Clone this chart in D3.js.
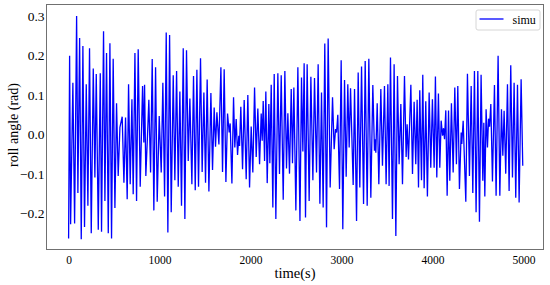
<!DOCTYPE html>
<html>
<head>
<meta charset="utf-8">
<script src="https://cdn.jsdelivr.net/npm/d3@7"></script>
<style>
  html, body { margin: 0; padding: 0; background: #fff; }
  svg { display: block; }
  text { font-family: "Liberation Serif", "Times New Roman", serif; fill: #000; }
</style>
</head>
<body>
<svg id="chart" width="550" height="285"></svg>
<script>
// ---- data ----
const times = [
  0, 11, 22, 47, 66, 88, 102, 121, 139, 157, 175, 194, 212, 230, 249, 271, 289, 304, 326, 348,
  362, 384, 399, 417, 436, 454, 472, 490, 509, 527, 545, 564, 589, 608, 626, 644, 659, 677, 696, 710,
  729, 747, 765, 787, 813, 827, 835, 849, 871, 882, 901, 919, 937, 956, 974, 996, 1018, 1036, 1055, 1073,
  1091, 1110, 1128, 1150, 1168, 1187, 1205, 1223, 1241, 1260, 1278, 1296, 1315, 1333, 1355, 1373, 1392, 1410, 1428, 1450,
  1468, 1487, 1505, 1523, 1542, 1564, 1582, 1600, 1615, 1630, 1652, 1674, 1692,
  1710, 1729, 1747, 1765, 1776, 1795, 1813, 1827, 1842, 1857, 1871, 1879, 1893, 1912, 1930, 1952, 1970, 1989, 2007, 2025,
  2044, 2062, 2080, 2099, 2117, 2128, 2139, 2154, 2168, 2183, 2201, 2212, 2227, 2245, 2260, 2278, 2300, 2318, 2337, 2359,
  2377, 2395, 2410, 2428, 2447, 2461, 2476, 2498, 2520, 2543, 2560, 2575,
  2589, 2604, 2622, 2644, 2663, 2685, 2703, 2725, 2743, 2762, 2780, 2798, 2816, 2835, 2853, 2875, 2901, 2919, 2934, 2945,
  2959, 2978, 2996, 3014, 3033, 3051, 3069, 3084, 3099, 3128, 3143, 3165, 3183, 3201, 3220, 3242, 3260, 3282, 3300, 3322,
  3344, 3362, 3370, 3377, 3392, 3410, 3432, 3450,
  3472, 3490, 3509, 3523, 3538, 3560, 3578, 3597, 3615, 3633, 3652, 3670, 3692, 3710, 3721, 3736, 3762, 3780, 3798, 3816,
  3831, 3846, 3860, 3879, 3893, 3908, 3926, 3944, 3963, 3981, 3999, 4018, 4032, 4047, 4065, 4080, 4095, 4110, 4121, 4132,
  4146, 4161, 4176, 4190, 4208, 4227, 4245, 4263, 4278, 4296, 4315, 4322, 4337,
  4366, 4384, 4406, 4425, 4443, 4461, 4479, 4498, 4516, 4534, 4553, 4564, 4575, 4589, 4604, 4616, 4627, 4641, 4659, 4681,
  4699, 4721, 4740, 4758, 4773, 4787, 4805, 4824, 4842, 4860, 4879, 4897, 4915, 4934, 4952, 4974, 4992
];
const roll = [
  -0.263, 0.199, -0.227, 0.131, -0.225, 0.300, -0.148, 0.244, -0.265, 0.224, -0.234, 0.127, -0.180, 0.218, -0.250, 0.167, -0.109, 0.153, -0.241, 0.155,
  -0.246, 0.261, -0.168, 0.206, -0.250, 0.231, -0.263, 0.192, -0.186, 0.079, -0.105, 0.018, 0.045, -0.122, 0.043, -0.164, 0.127, -0.126, 0.089, -0.151,
  0.206, -0.168, 0.216, -0.132, 0.123, -0.020, 0.126, -0.105, 0.020, 0.088, -0.096, 0.191, -0.192, 0.170, -0.170, 0.047, -0.096, 0.131, -0.157, 0.258,
  -0.248, 0.252, -0.197, 0.150, -0.116, 0.161, -0.132, 0.109, -0.180, 0.218, -0.214, 0.213, -0.067, 0.091, -0.126, 0.148, -0.141, 0.164, -0.132, 0.193,
  -0.095, 0.106, -0.122, 0.139, -0.144, 0.105, -0.090, 0.068, -0.031, 0.056, -0.025, 0.170, -0.095,
  0.165, -0.120, 0.053, 0.005, 0.028, -0.124, 0.094, -0.033, 0.039, -0.052, -0.003, -0.029, 0.070, -0.088, 0.087, -0.113, 0.100, -0.134, 0.020, -0.096,
  0.119, -0.057, 0.066, -0.075, 0.053, -0.016, 0.085, -0.067, 0.109, -0.123, 0.077, -0.073, 0.126, -0.185, 0.153, -0.214, 0.155, -0.100, 0.150, -0.165,
  0.161, -0.086, 0.054, -0.099, 0.115, -0.073, 0.119, -0.192, 0.170, -0.219, 0.144, -0.043,
  0.180, -0.210, 0.178, -0.168, 0.146, -0.116, 0.143, -0.096, 0.178, -0.175, 0.106, -0.185, 0.230, -0.235, 0.243, -0.134, 0.094, -0.037, 0.014, 0.005,
  0.050, -0.138, 0.188, -0.240, 0.138, -0.107, 0.127, -0.033, 0.117, -0.128, 0.115, -0.219, 0.157, -0.134, 0.172, -0.176, 0.186, -0.180, 0.192, -0.160,
  0.125, -0.041, -0.012, -0.046, 0.079, -0.126, 0.115, -0.079,
  0.123, -0.126, 0.127, -0.130, 0.195, -0.214, 0.178, -0.257, 0.148, -0.075, 0.077, -0.126, 0.148, -0.057, 0.026, -0.063, 0.126, -0.100, 0.083, -0.075,
  0.088, -0.134, 0.112, -0.116, 0.151, -0.136, 0.084, -0.157, 0.106, -0.084, 0.089, -0.084, 0.147, -0.109, 0.104, -0.084, 0.035, -0.003, 0.016, -0.012,
  0.061, -0.155, 0.061, -0.117, 0.079, -0.096, 0.119, -0.075, 0.123, -0.138, 0.005, -0.024, 0.035,
  -0.170, 0.154, -0.105, 0.123, -0.148, 0.161, -0.197, 0.161, -0.221, 0.151, -0.117, 0.030, -0.157, 0.064, -0.033, 0.040, 0.020, 0.077, -0.119, 0.125,
  -0.155, 0.199, -0.155, 0.064, -0.054, 0.060, -0.099, 0.127, -0.143, 0.175, -0.109, 0.131, -0.160, 0.126, -0.172, 0.140, -0.079
];
const xTicks = [0, 1000, 2000, 3000, 4000, 5000];
const yTicks = [-0.2, -0.1, 0.0, 0.1, 0.2, 0.3];
const seriesName = "simu";
const xLabel = "time(s)";
const yLabel = "roll angle (rad)";

// ---- layout ----
const plot = { left: 46.5, right: 543.5, top: 4.5, bottom: 249.5 };
const svg = d3.select("#chart");

const x = d3.scaleLinear().domain([-243, 5220]).range([plot.left, plot.right]);
const y = d3.scaleLinear().domain([-0.291, 0.329]).range([plot.bottom, plot.top]);

const data = times.map((t, i) => ({ t, v: roll[i] }));

// clip
svg.append("defs").append("clipPath").attr("id", "clip")
  .append("rect").attr("x", plot.left).attr("y", plot.top)
  .attr("width", plot.right - plot.left).attr("height", plot.bottom - plot.top);

// line
svg.append("path")
  .datum(data)
  .attr("clip-path", "url(#clip)")
  .attr("fill", "none")
  .attr("stroke", "#0000ff")
  .attr("stroke-width", 1.3)
  .attr("stroke-linejoin", "miter")
  .attr("d", d3.line().x(d => x(d.t)).y(d => y(d.v)));

// axes
const xAxis = svg.append("g")
  .attr("transform", `translate(0,${plot.bottom})`)
  .call(d3.axisBottom(x).tickValues(xTicks).tickFormat(d3.format("d")).tickSize(0).tickPadding(6));
xAxis.select(".domain").remove();
xAxis.selectAll("text").style("font-size", "11.5px").attr("fill", "#000");

const yAxis = svg.append("g")
  .attr("transform", `translate(${plot.left},0)`)
  .call(d3.axisLeft(y).tickValues(yTicks).tickFormat(d3.format(".1f")).tickSize(0).tickPadding(2));
yAxis.select(".domain").remove();
yAxis.selectAll("text").style("font-size", "13.5px").attr("fill", "#000");

// frame
svg.append("rect")
  .attr("x", plot.left).attr("y", plot.top)
  .attr("width", plot.right - plot.left).attr("height", plot.bottom - plot.top)
  .attr("fill", "none").attr("stroke", "#707070").attr("stroke-width", 1);

// axis labels
svg.append("text")
  .attr("x", (plot.left + plot.right) / 2).attr("y", 273)
  .attr("text-anchor", "middle").attr("dominant-baseline", "central")
  .style("font-size", "14.5px").text(xLabel);

svg.append("text")
  .attr("transform", `translate(13.5,${(plot.top + plot.bottom) / 2 - 2}) rotate(-90)`)
  .attr("text-anchor", "middle").attr("dominant-baseline", "central")
  .style("font-size", "14px").text(yLabel);

// legend
const lg = svg.append("g");
lg.append("rect")
  .attr("x", 476).attr("y", 10).attr("width", 64).attr("height", 20).attr("rx", 2)
  .attr("fill", "#fff").attr("stroke", "#d6d6d6").attr("stroke-width", 1);
lg.append("line")
  .attr("x1", 479.5).attr("x2", 503.5).attr("y1", 19).attr("y2", 19)
  .attr("stroke", "#0000ff").attr("stroke-width", 1.3);
lg.append("text")
  .attr("x", 512.5).attr("y", 19.5).attr("dominant-baseline", "central")
  .style("font-size", "12px").text(seriesName);
</script>
</body>
</html>
